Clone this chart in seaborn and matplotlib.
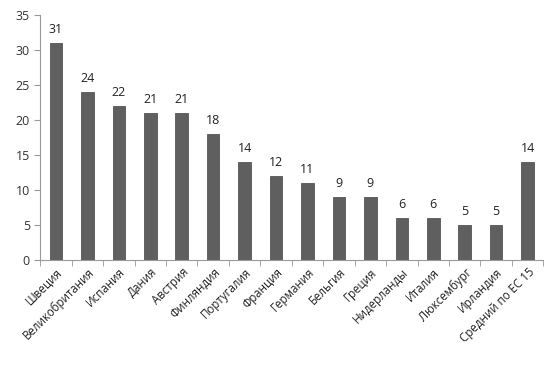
import matplotlib
matplotlib.use("Agg")
import matplotlib.pyplot as plt
import numpy as np
import pandas as pd
import seaborn as sns

countries = ["Швеция", "Великобритания", "Испания", "Дания", "Австрия", "Финляндия",
             "Португалия", "Франция", "Германия", "Бельгия", "Греция", "Нидерланды",
             "Италия", "Люксембург", "Ирландия", "Средний по ЕС 15"]
values = [31, 24, 22, 21, 21, 18, 14, 12, 11, 9, 9, 6, 6, 5, 5, 14]

sns.set_style("white")
plt.rcParams["font.family"] = ["Open Sans", "DejaVu Sans"]

df = pd.DataFrame({"country": countries, "value": values})

fig = plt.figure(figsize=(5.59, 3.69), dpi=100)
ax = fig.add_axes([0.072, 0.295, 0.9, 0.665])
sns.barplot(df, x="country", y="value", color="#5f5f5f", width=0.4,
            saturation=1, edgecolor="#555555", linewidth=0.6, ax=ax)

for i, v in enumerate(values):
    ax.text(i, v + 1.0, str(v), ha="center", va="bottom", fontsize=9, color="#222222")

ax.set_ylim(0, 35)
ax.set_xlim(-0.5, len(values) - 0.5)
ax.set_yticks(np.arange(0, 36, 5))
ax.set_xlabel("")
ax.set_ylabel("")
ax.set_xticks(np.arange(-0.5, len(values), 1), minor=True)
ax.tick_params(axis="x", which="major", length=0, pad=4)
ax.tick_params(axis="x", which="minor", length=4, color="#999999", direction="out", bottom=True)
ax.tick_params(axis="y", length=4, color="#999999", direction="out", left=True, labelsize=9,
               labelcolor="#333333")
plt.setp(ax.get_xticklabels(), rotation=45, ha="right", rotation_mode="anchor",
         fontsize=8.3, color="#222222")
for s in ["top", "right"]:
    ax.spines[s].set_visible(False)
for s in ["left", "bottom"]:
    ax.spines[s].set_color("#999999")
    ax.spines[s].set_linewidth(0.8)

fig.savefig("out.png", dpi=100)
